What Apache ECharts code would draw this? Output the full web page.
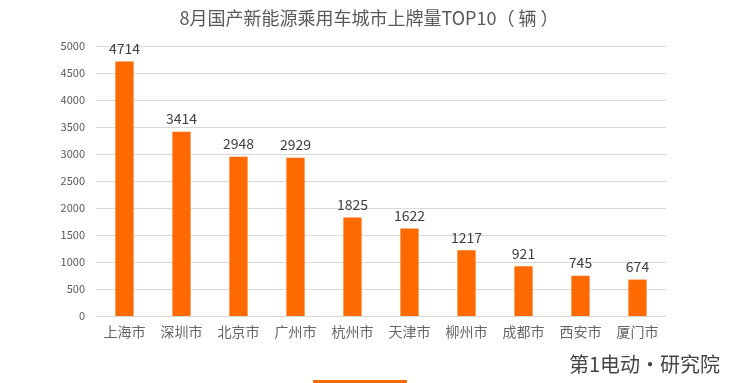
<!DOCTYPE html>
<html><head><meta charset="utf-8">
<script src="https://cdn.jsdelivr.net/npm/echarts@6/dist/echarts.min.js"></script>
<style>html,body{margin:0;padding:0;background:#fff}#c{width:738px;height:383px}</style>
</head><body><div id="c"></div>
<script>
const categories = ['上海市','深圳市','北京市','广州市','杭州市','天津市','柳州市','成都市','西安市','厦门市'];
const values = [4714,3414,2948,2929,1825,1622,1217,921,745,674];
const seriesName = '上牌量';
const titleText = '8月国产新能源乘用车城市上牌量TOP10（ 辆 ）';
const watermark = '第1电动·研究院';
const font = '"Noto Sans CJK SC", sans-serif';
const chart = echarts.init(document.getElementById('c'));
chart.setOption({
  animation: false,
  title: { text: titleText, left: 'center', top: 4, textStyle: { fontFamily: font, fontSize: 18, fontWeight: 'normal', color: '#595959' } },
  legend: { data: [seriesName], left: 313, top: 380, padding: 0, itemWidth: 94, itemHeight: 30, icon: 'rect', textStyle: { color: '#595959', fontSize: 12 } },
  grid: { left: 96, right: 72, top: 46, bottom: 67, containLabel: false },
  xAxis: { type: 'category', data: categories,
    axisLine: { lineStyle: { color: '#d9d9d9' } }, axisTick: { show: false },
    axisLabel: { fontFamily: font, fontSize: 14, color: '#666', margin: 9 } },
  yAxis: { type: 'value', min: 0, max: 5000, interval: 500,
    axisLine: { show: false }, axisTick: { show: false },
    splitLine: { lineStyle: { color: '#d9d9d9' } },
    axisLabel: { fontFamily: font, fontSize: 11, color: '#595959', margin: 11, formatter: v => String(v) } },
  series: [{ name: seriesName, type: 'bar', data: values, barWidth: '32%',
    itemStyle: { color: '#ff6a00' },
    label: { show: true, position: 'top', distance: 6, fontFamily: font, fontSize: 14, color: '#404040' } }],
  graphic: [{ type: 'text', right: 18, top: 354, style: { text: watermark, fontFamily: font, fontSize: 20, fill: '#444' } }]
});
</script></body></html>
